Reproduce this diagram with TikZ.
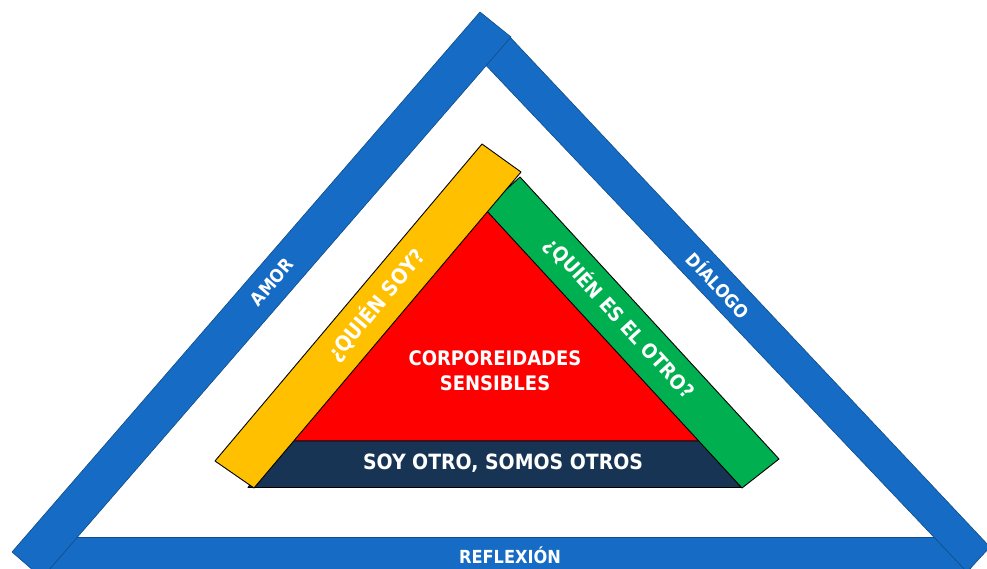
\documentclass[tikz,border=0pt]{standalone}
\usepackage{fontspec}
\setmainfont{DejaVu Sans Condensed}

\definecolor{barblue}{RGB}{22,108,196}
\definecolor{baryellow}{RGB}{255,192,0}
\definecolor{bargreen}{RGB}{0,176,80}
\definecolor{corered}{RGB}{255,0,0}
\definecolor{basenavy}{RGB}{23,52,85}

\begin{document}
\begin{tikzpicture}[
	x=1pt,
	y=-1pt,
	outer/.style={
		fill=barblue,
		draw=barblue!70!black,
		line width=0.6pt,
		line join=round
	},
	inner/.style={
		draw=black,
		line width=0.9pt,
		line join=round
	},
	outerlabel/.style={
		text=white,
		font=\bfseries\fontsize{18}{21}\selectfont,
		inner sep=0pt
	},
	innerlabel/.style={
		text=white,
		align=center,
		font=\bfseries\fontsize{20}{25}\selectfont,
		inner sep=0pt
	}
]

\useasboundingbox (0,0) rectangle (987,569);
\clip (0,0) rectangle (987,569);

% outer frame: three blue bars
\filldraw[outer] (40,537) -- (970,537) -- (970,585) -- (40,585) -- cycle;
\filldraw[outer] (509,36) -- (990,547) -- (967,572) -- (479,58) -- cycle;
\filldraw[outer] (12,552) -- (480,12) -- (511,37) -- (42,578) -- cycle;

% inner pyramid
\filldraw[inner, fill=corered] (488,205) -- (704,441) -- (290,441) -- cycle;
\filldraw[inner, fill=basenavy] (282,441) -- (704,441) -- (741,487.5) -- (248,487.5) -- cycle;
\filldraw[inner, fill=bargreen] (520,177) -- (779,459) -- (742,488) -- (485,209) -- cycle;
\filldraw[inner, fill=baryellow] (482,144) -- (521,172) -- (254,488) -- (215,461) -- cycle;

% labels
\node[outerlabel, rotate=49] (amor) at (272,282) {AMOR};
\node[outerlabel, rotate=-47] (dialogo) at (719,285) {DÍALOGO};
\node[outerlabel] (reflexion) at (510,555) {REFLEXIÓN};

\node[innerlabel, rotate=50, font=\bfseries\fontsize{21}{25}\selectfont] (quiensoy) at (376,305) {¿QUIÉN SOY?};
\node[innerlabel, rotate=-47.5] (quienotro) at (620,318) {¿QUIÉN ES EL OTRO?};
\node[innerlabel] (corpo) at (495,371) {CORPOREIDADES\\SENSIBLES};
\node[innerlabel, font=\bfseries\fontsize{21}{25}\selectfont] (somos) at (503,463) {SOY OTRO, SOMOS OTROS};

\end{tikzpicture}
\end{document}
